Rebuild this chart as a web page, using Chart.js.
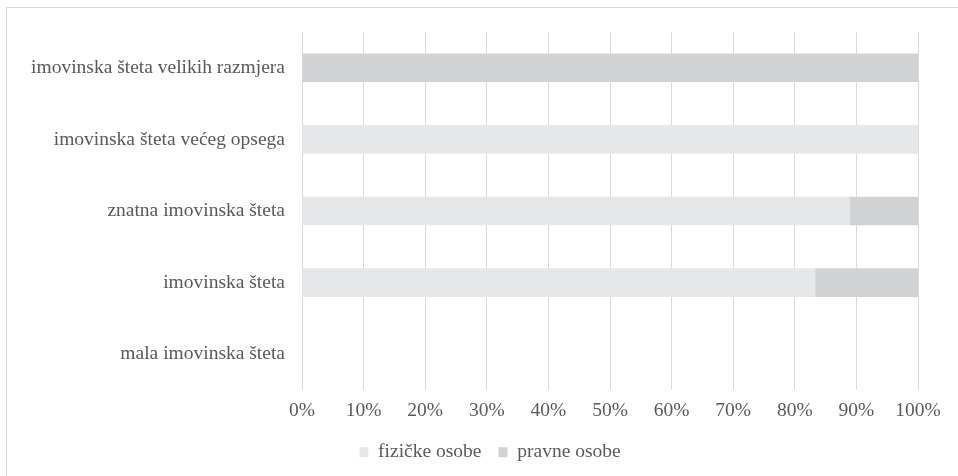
<!DOCTYPE html>
<html>
<head>
<meta charset="utf-8">
<script src="https://cdn.jsdelivr.net/npm/chart.js@4"></script>
<style>
    html, body { margin: 0; padding: 0; background: #fff; }
    .wrap { position: relative; width: 958px; height: 476px; overflow: hidden; }
    .frame { position: absolute; left: 6px; top: 7px; width: 1000px; height: 1000px;
             border-top: 1px solid #d9d9d9; border-left: 1px solid #d9d9d9; }
    canvas { position: absolute; left: 0; top: 0; }
</style>
</head>
<body>
<div class="wrap">
    <div class="frame"></div>
    <canvas id="damageChart" width="958" height="476"></canvas>
</div>
<script>
// categories, top to bottom
const categories = [
    'imovinska šteta velikih razmjera',
    'imovinska šteta većeg opsega',
    'znatna imovinska šteta',
    'imovinska šteta',
    'mala imovinska šteta'
];
// shares in %
const fizickeOsobe = [0, 100, 88.9, 83.3, 0];
const pravneOsobe = [100, 0, 11.1, 16.7, 0];
const xTicks = [0, 10, 20, 30, 40, 50, 60, 70, 80, 90, 100];

Chart.defaults.font.family = "'Liberation Serif', 'Times New Roman', serif";
Chart.defaults.font.size = 19.5;
Chart.defaults.color = '#595959';

const ctx = document.getElementById('damageChart').getContext('2d');
new Chart(ctx, {
    type: 'bar',
    data: {
        labels: categories,
        datasets: [{
            label: 'fizičke osobe',
            data: fizickeOsobe,
            backgroundColor: '#e6e7e8',
            borderWidth: 0,
            categoryPercentage: 0.4,
            barPercentage: 1.0
        }, {
            label: 'pravne osobe',
            data: pravneOsobe,
            backgroundColor: '#d1d2d4',
            borderWidth: 0,
            categoryPercentage: 0.4,
            barPercentage: 1.0
        }]
    },
    options: {
        indexAxis: 'y',
        responsive: false,
        animation: false,
        layout: {
            padding: { top: 32, left: 22, right: 0, bottom: 4 }
        },
        plugins: {
            legend: {
                position: 'bottom',
                labels: {
                    boxWidth: 9,
                    boxHeight: 10,
                    padding: 17,
                    color: '#595959'
                }
            },
            tooltip: { enabled: false }
        },
        scales: {
            x: {
                stacked: true,
                min: 0,
                max: 100,
                afterBuildTicks: scale => {
                    scale.ticks = xTicks.map(v => ({ value: v }));
                },
                ticks: {
                    padding: 9,
                    maxRotation: 0,
                    callback: value => value + '%'
                },
                grid: {
                    color: '#d9d9d9',
                    lineWidth: 1,
                    drawTicks: false
                },
                border: { display: false },
                afterFit: scale => {
                    scale.height = 35.5;
                    scale.paddingLeft = 0;
                    scale.paddingRight = 40;
                }
            },
            y: {
                stacked: true,
                ticks: {
                    padding: 17
                },
                grid: { display: false, drawTicks: false },
                border: { display: false },
                afterFit: scale => {
                    scale.width = 280;
                }
            }
        }
    }
});
</script>
</body>
</html>
